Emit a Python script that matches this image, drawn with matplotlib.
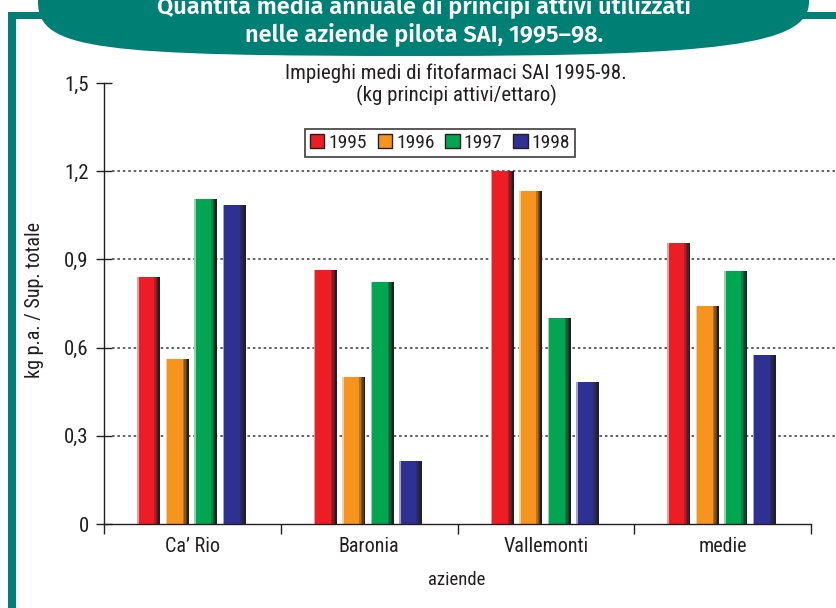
import matplotlib
matplotlib.use("Agg")
import matplotlib.pyplot as plt
from matplotlib.path import Path
from matplotlib.patches import PathPatch, Rectangle
from matplotlib.colors import to_rgb
import numpy as np

# ---------------- data ----------------
aziende = ["Ca’ Rio", "Baronia", "Vallemonti", "medie"]
years = ["1995", "1996", "1997", "1998"]
v1995 = [0.84, 0.864, 1.20, 0.956]
v1996 = [0.561, 0.50, 1.133, 0.741]
v1997 = [1.105, 0.823, 0.70, 0.861]
v1998 = [1.085, 0.214, 0.483, 0.575]
yticks = [0, 0.3, 0.6, 0.9, 1.2, 1.5]
yticklabels = ["0", "0,3", "0,6", "0,9", "1,2", "1,5"]

banner_l1 = "Quantità media annuale di principi attivi utilizzati"
banner_l2 = "nelle aziende pilota SAI, 1995–98."
chart_title = "Impieghi medi di fitofarmaci SAI 1995-98.\n(kg principi attivi/ettaro)"
ylabel = "kg p.a. / Sup. totale"
xlabel = "aziende"

colors = ["#EE1C25", "#F7941D", "#00A651", "#2E3192"]
series = [v1995, v1996, v1997, v1998]

FONT = ["Roboto Condensed", "DejaVu Sans"]
BANNER_FONT = ["Fira Sans", "DejaVu Sans"]
plt.rcParams["font.family"] = FONT
TXT = "#231F20"
TEAL = "#007F74"

W, H = 837, 608
fig = plt.figure(figsize=(W / 100, H / 100), dpi=100)
fig.patch.set_facecolor("white")

# ---------------- background frame (pixel coords) ----------------
bg = fig.add_axes([0, 0, 1, 1], zorder=0)
bg.set_xlim(0, W)
bg.set_ylim(H, 0)
bg.axis("off")
bg.add_patch(Rectangle((8, 12), 8, H - 12 + 5, color=TEAL, lw=0))
bg.add_patch(Rectangle((8, 12), 40, 7, color=TEAL, lw=0))
bg.add_patch(Rectangle((800, 12), 40, 6.5, color=TEAL, lw=0))
verts = [(38, -10), (38, 2),
         (38, 50), (100, 56), (423, 56),
         (720, 56), (809, 45), (809, 2),
         (809, -10), (38, -10)]
codes = [Path.MOVETO, Path.LINETO,
         Path.CURVE4, Path.CURVE4, Path.CURVE4,
         Path.CURVE4, Path.CURVE4, Path.CURVE4,
         Path.LINETO, Path.CLOSEPOLY]
bg.add_patch(PathPatch(Path(verts, codes), facecolor=TEAL, edgecolor="none"))
bg.text(424, 14, banner_l1, color="white", fontsize=17, fontweight="semibold",
        ha="center", va="baseline", family=BANNER_FONT)
bg.text(424, 41, banner_l2, color="white", fontsize=17, fontweight="semibold",
        ha="center", va="baseline", family=BANNER_FONT)

# ---------------- chart axes ----------------
x0, x1 = 104, 811
ytop, y0 = 83, 524
ax = fig.add_axes([x0 / W, 1 - y0 / H, (x1 - x0) / W, (y0 - ytop) / H], zorder=1)
ax.set_facecolor("none")
ax.set_xlim(0, len(aziende))
ax.set_ylim(0, 1.5)

px = len(aziende) / (x1 - x0)  # one pixel in data units (x)
bw = 23 * px
offs = (np.array([-1.5, -0.5, 0.5, 1.5]) * 28.5 - 1.0) * px
centers = np.arange(len(aziende)) + 0.5
dark = np.array(to_rgb("#231F20"))

def mix(c, t):
    c = np.array(to_rgb(c))
    return tuple(c * (1 - t) + dark * t)

def lighten(c, t):
    c = np.array(to_rgb(c))
    return tuple(c * (1 - t) + np.ones(3) * t)

for vals, col, off in zip(series, colors, offs):
    xs = centers + off
    left = xs - bw / 2
    ax.bar(left, vals, width=bw, align="edge", color=col, lw=0, zorder=3)
    ax.bar(left, vals, width=1.5 * px, align="edge", color=lighten(col, 0.55), lw=0, zorder=4)
    strips = [(6, 0.3), (4.5, 0.55), (3, 0.75), (1.8, 1.0)]
    for wpx, t in strips:
        ax.bar(left + bw - wpx * px, vals, width=wpx * px, align="edge",
               color=mix(col, t), lw=0, zorder=4)

# gridlines extending to figure edge
gx_end = (W - x0) / (x1 - x0)
for yv in yticks[1:-1]:
    ax.plot([8 / (x1 - x0), gx_end], [yv, yv], transform=ax.get_yaxis_transform(),
            color="#555555", lw=1.3, ls=(0, (1.4, 1.6)), clip_on=False, zorder=2)

for s in ["top", "right"]:
    ax.spines[s].set_visible(False)
for s in ["left", "bottom"]:
    ax.spines[s].set_color("#231F20")
    ax.spines[s].set_linewidth(1.0)
    ax.spines[s].set_zorder(5)

ax.set_yticks(yticks)
ax.set_yticklabels(yticklabels)
ax.tick_params(axis="y", direction="inout", length=12, width=1.0, pad=5,
               labelsize=15, colors=TXT)
ax.set_xticks(np.arange(len(aziende) + 1))
ax.set_xticklabels([])
ax.tick_params(axis="x", which="major", direction="out", length=7, width=1.0, colors=TXT)
ax.set_xticks(centers, minor=True)
ax.set_xticklabels(aziende, minor=True)
ax.tick_params(axis="x", which="minor", length=0, pad=9, labelsize=14.5, labelcolor=TXT)

fig.text(457 / W, 1 - 580 / H, xlabel, ha="center", va="center", fontsize=13.5, color=TXT)
fig.text(35 / W, 1 - 300 / H, ylabel, ha="center", va="center", rotation=90,
         fontsize=14.5, color=TXT)
fig.text(456 / W, 1 - 85 / H, chart_title, ha="center", va="center", fontsize=15,
         color=TXT, linespacing=1.1)

handles = [Rectangle((0, 0), 1, 1, facecolor=c, edgecolor="#231F20", lw=1.0) for c in colors]
leg = fig.legend(handles, years, loc="upper left", bbox_to_anchor=(305 / W, 1 - 129 / H),
                 ncol=4, fontsize=14, frameon=True, fancybox=False, shadow=False,
                 handlelength=0.75, handleheight=0.75, handletextpad=0.2,
                 columnspacing=0.55, borderpad=0.25, borderaxespad=0)
leg.get_frame().set_edgecolor("#231F20")
leg.get_frame().set_linewidth(1.3)
for t in leg.get_texts():
    t.set_color(TXT)

fig.savefig("out.png", dpi=100, facecolor="white")
